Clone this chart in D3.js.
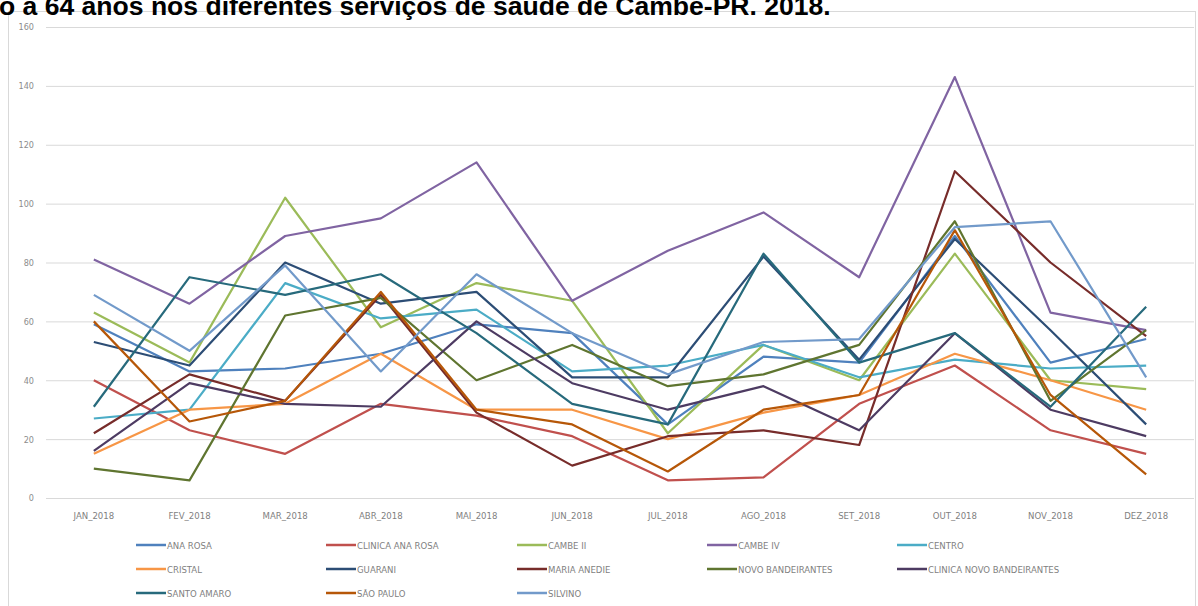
<!DOCTYPE html>
<html>
<head>
<meta charset="utf-8">
<script src="https://cdn.jsdelivr.net/npm/d3@7"></script>
<style>
  html, body { margin: 0; padding: 0; background: #fff; overflow: hidden; }
  svg { display: block; }
</style>
</head>
<body>
<svg id="chart" width="1198" height="606"></svg>
<script>
// Monthly attendances per health unit, 2018
const months = ["JAN_2018","FEV_2018","MAR_2018","ABR_2018","MAI_2018","JUN_2018",
                "JUL_2018","AGO_2018","SET_2018","OUT_2018","NOV_2018","DEZ_2018"];

const units = ["ANA ROSA","CLINICA ANA ROSA","CAMBE II","CAMBE IV","CENTRO",
               "CRISTAL","GUARANI","MARIA ANEDIE","NOVO BANDEIRANTES","CLINICA NOVO BANDEIRANTES",
               "SANTO AMARO","SÃO PAULO","SILVINO"];

const anaRosa        = [59, 43, 44, 49, 59, 56, 25, 48, 46, 89, 46, 54];
const clinicaAnaRosa = [40, 23, 15, 32, 28, 21,  6,  7, 32, 45, 23, 15];
const cambeII        = [63, 46,102, 58, 73, 67, 22, 52, 40, 83, 40, 37];
const cambeIV        = [81, 66, 89, 95,114, 67, 84, 97, 75,143, 63, 57];
const centro         = [27, 30, 73, 61, 64, 43, 45, 52, 41, 47, 44, 45];
const cristal        = [15, 30, 32, 49, 30, 30, 20, 29, 35, 49, 40, 30];
const guarani        = [53, 45, 80, 66, 70, 41, 41, 82, 47, 88, 57, 25];
const mariaAnedie    = [22, 42, 33, 69, 29, 11, 21, 23, 18,111, 80, 55];
const novoBand       = [10,  6, 62, 68, 40, 52, 38, 42, 52, 94, 33, 57];
const clinicaNovo    = [16, 39, 32, 31, 60, 39, 30, 38, 23, 56, 30, 21];
const santoAmaro     = [31, 75, 69, 76, 56, 32, 25, 83, 46, 56, 31, 65];
const saoPaulo       = [60, 26, 33, 70, 30, 25,  9, 30, 35, 91, 35,  8];
const silvino        = [69, 50, 79, 43, 76, 56, 42, 53, 54, 92, 94, 41];

const seriesValues = [anaRosa, clinicaAnaRosa, cambeII, cambeIV, centro, cristal, guarani,
                      mariaAnedie, novoBand, clinicaNovo, santoAmaro, saoPaulo, silvino];

const colors = ["#4F81BD","#C0504D","#9BBB59","#8064A2","#4BACC6","#F79646","#2C4D75",
                "#772C2A","#5F7530","#4D3B62","#276A7C","#B65708","#729ACA"];

const yTicks = [0, 20, 40, 60, 80, 100, 120, 140, 160];

const titleText = "o a 64 anos nos diferentes serviços de saúde de Cambé-PR. 2018.";

const svg = d3.select("#chart");
const labelFont = "'Liberation Sans Narrow', 'DejaVu Sans Condensed', sans-serif";

// Chart frame
svg.append("rect")
  .attr("x", 8.5).attr("y", 11.5)
  .attr("width", 1187).attr("height", 600)
  .attr("fill", "#fff").attr("stroke", "#d9d9d9").attr("stroke-width", 1);

// Title (runs off the left/top edge of the page)
const title = svg.append("text")
  .attr("x", -1).attr("y", 15)
  .attr("font-family", "'Liberation Sans', Arial, sans-serif")
  .attr("font-weight", "bold")
  .attr("font-size", 20)
  .attr("fill", "#000")
  .text(titleText);
const tw = title.node().getComputedTextLength();
title.attr("font-size", 20 * 832 / tw);

const plot = { left: 46, right: 1194, top: 27, bottom: 498 };

const x = d3.scaleBand().domain(months).range([plot.left, plot.right]);
const xc = m => x(m) + x.bandwidth() / 2;
const y = d3.scaleLinear().domain([0, 160]).range([plot.bottom, plot.top]);

// Horizontal gridlines and value labels
const yAxis = svg.append("g")
  .attr("transform", `translate(${plot.left},0)`)
  .call(d3.axisLeft(y).tickValues(yTicks).tickSize(-(plot.right - plot.left)).tickPadding(12));
yAxis.select(".domain").remove();
yAxis.selectAll(".tick line").attr("stroke", "#d9d9d9").attr("stroke-width", 1);
yAxis.selectAll(".tick text")
  .attr("font-family", labelFont).attr("font-size", 9).attr("fill", "#8c8c8c");

// Category labels
const xAxis = svg.append("g")
  .attr("transform", `translate(0,${plot.bottom})`)
  .call(d3.axisBottom(x).tickSize(0).tickPadding(14));
xAxis.select(".domain").remove();
xAxis.selectAll(".tick text")
  .attr("font-family", labelFont).attr("font-size", 9.5).attr("fill", "#7f7f7f");

// Series lines
const line = d3.line()
  .x((d, i) => xc(months[i]))
  .y(d => y(d));

svg.append("g").selectAll("path")
  .data(seriesValues)
  .join("path")
  .attr("d", d => line(d))
  .attr("fill", "none")
  .attr("stroke", (d, i) => colors[i])
  .attr("stroke-width", 2.2)
  .attr("stroke-linejoin", "round");

// Legend: 5 columns, 3 rows
const legend = svg.append("g");
const colX = [136, 326, 517, 707, 897];
const rowY = [545, 569, 593];
units.forEach((name, i) => {
  const cx = colX[i % 5], cy = rowY[Math.floor(i / 5)];
  const g = legend.append("g").attr("transform", `translate(${cx},${cy})`);
  g.append("line").attr("x1", 0).attr("x2", 30).attr("y1", 0).attr("y2", 0)
    .attr("stroke", colors[i]).attr("stroke-width", 2.5);
  g.append("text").attr("x", 31).attr("y", 3.5)
    .attr("font-family", labelFont).attr("font-size", 9.5).attr("fill", "#7f7f7f")
    .text(name);
});
</script>
</body>
</html>
